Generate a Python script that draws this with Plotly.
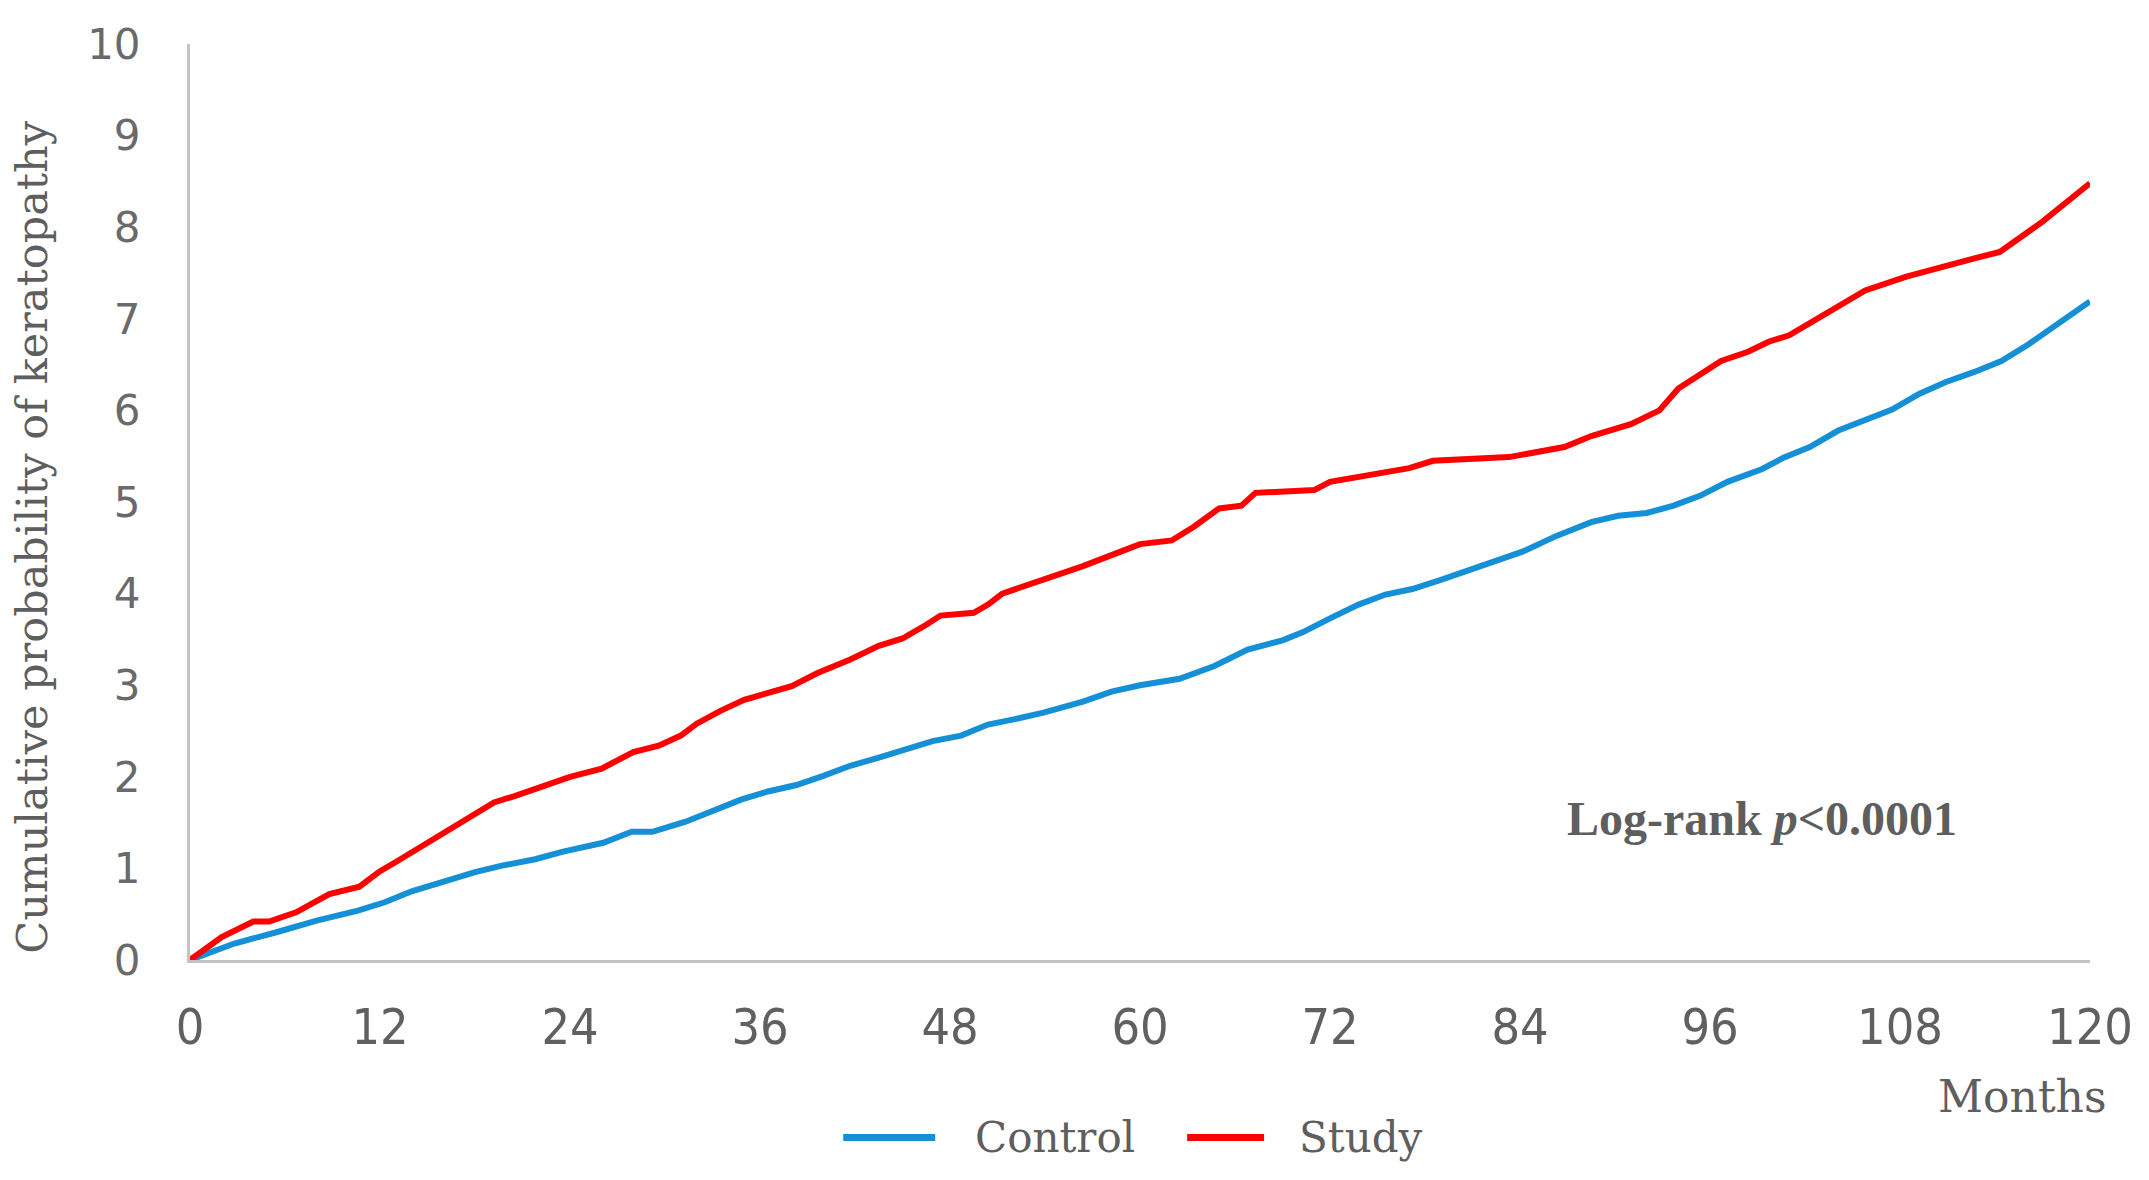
import plotly.graph_objects as go

# ---- data ----
control_months = [0, 2.8, 5.4, 8, 10.6, 12.3, 14, 15.8, 18, 19.7, 21.8, 23.5, 26.1, 27.9, 29.2,
                  31.3, 33, 34.8, 36.5, 38.3, 40, 41.7, 43.5, 45.2, 46.9, 48.7, 50.4, 52.1, 53.9,
                  56.4, 58.2, 60, 62.5, 64.7, 66.8, 69, 70.3, 72, 73.8, 75.5, 77.2, 79, 81.1, 82.4,
                  84.2, 86.3, 88.5, 90.2, 92, 93.7, 95.4, 97.1, 99.3, 100.6, 102.3, 104.1, 105.8,
                  107.5, 109.2, 110.9, 112.7, 114.4, 116.1, 117.9, 120]
control_values = [0, 0.18, 0.30, 0.43, 0.54, 0.63, 0.75, 0.85, 0.96, 1.03, 1.10, 1.18, 1.28, 1.40, 1.40,
                  1.51, 1.63, 1.75, 1.84, 1.91, 2.01, 2.12, 2.21, 2.30, 2.39, 2.45, 2.57, 2.63, 2.70,
                  2.82, 2.93, 3.00, 3.07, 3.21, 3.39, 3.49, 3.58, 3.73, 3.88, 3.99, 4.05, 4.15, 4.27, 4.36,
                  4.46, 4.63, 4.78, 4.85, 4.88, 4.96, 5.07, 5.22, 5.36, 5.48, 5.60, 5.78, 5.90,
                  6.01, 6.18, 6.31, 6.42, 6.54, 6.72, 6.94, 7.19]

study_months = [0, 2, 4, 5, 6.7, 8.8, 10.7, 12, 13, 15, 16.6, 18, 19.2, 20.5, 22, 24, 26, 28, 29.6,
                31, 32, 33.5, 35, 36.5, 38, 39.6, 41.7, 43.5, 45, 46.5, 47.4, 49.5, 50.4, 51.3, 53.9,
                56.4, 58.2, 60, 62, 63.4, 65, 66.4, 67.3, 71, 72, 74.6, 77, 78.5, 83.3, 86.8, 88.5,
                91, 92.8, 94, 95.4, 96.7, 98.4, 99.7, 101, 103.2, 105.8, 108.4, 110.6, 112.7, 114.3,
                117, 120]
study_values = [0, 0.25, 0.42, 0.42, 0.52, 0.72, 0.80, 0.97, 1.07, 1.28, 1.45, 1.61, 1.72, 1.79, 1.88,
                2.00, 2.09, 2.27, 2.34, 2.45, 2.58, 2.72, 2.84, 2.91, 2.99, 3.13, 3.28, 3.43, 3.51,
                3.66, 3.76, 3.79, 3.88, 4.00, 4.15, 4.30, 4.42, 4.54, 4.58, 4.73, 4.93, 4.96, 5.10,
                5.13, 5.22, 5.30, 5.37, 5.45, 5.49, 5.60, 5.72, 5.85, 6.00, 6.24, 6.39, 6.54, 6.64,
                6.75, 6.82, 7.04, 7.31, 7.46, 7.57, 7.66, 7.73, 8.06, 8.48]

x_ticks = [0, 12, 24, 36, 48, 60, 72, 84, 96, 108, 120]
y_ticks = [0, 1, 2, 3, 4, 5, 6, 7, 8, 9, 10]

BLUE = "#1590d6"
RED = "#ff0000"
TEXT = "#5e5e5e"
SERIF_WIDE = "DejaVu Serif, Liberation Serif, serif"
SERIF = "Liberation Serif, DejaVu Serif, serif"

fig = go.Figure()
fig.add_trace(go.Scatter(x=control_months, y=control_values, mode="lines", name="Control",
                         line=dict(color=BLUE, width=6), showlegend=False))
fig.add_trace(go.Scatter(x=study_months, y=study_values, mode="lines", name="Study",
                         line=dict(color=RED, width=6), showlegend=False))

fig.update_layout(
    width=2149, height=1180,
    margin=dict(l=182, r=67, t=33, b=228),
    paper_bgcolor="white", plot_bgcolor="white",
    xaxis=dict(range=[0, 120], tickvals=x_ticks, ticktext=[str(v) for v in x_ticks],
               showgrid=False, zeroline=False, showline=True, linecolor="#c4c4c4", linewidth=3,
               ticks="", ticklabelstandoff=21,
               tickfont=dict(family="Liberation Sans Narrow, DejaVu Sans Condensed, sans-serif",
                             size=50, color="#606060")),
    yaxis=dict(range=[0, 10], tickvals=y_ticks, ticktext=[str(v) for v in y_ticks],
               showgrid=False, zeroline=False, showline=True, linecolor="#c4c4c4", linewidth=3,
               ticks="", ticklabelstandoff=38,
               tickfont=dict(family="DejaVu Sans, sans-serif", size=42, color="#6a6a6a")),
)

# y-axis title
fig.add_annotation(text="Cumulative probability of keratopathy", textangle=-90,
                   xref="paper", yref="paper", x=-0.0832, y=0.462, showarrow=False,
                   xanchor="center", yanchor="middle",
                   font=dict(family=SERIF_WIDE, size=43, color=TEXT))
# x-axis title
fig.add_annotation(text="Months", xref="paper", yref="paper", x=0.9642, y=-0.1492,
                   showarrow=False, xanchor="center", yanchor="middle",
                   font=dict(family=SERIF_WIDE, size=44, color=TEXT))
# log-rank annotation
fig.add_annotation(text="<b>Log-rank <i>p</i>&lt;0.0001</b>", xref="x", yref="y", x=99.3, y=1.54,
                   showarrow=False, xanchor="center", yanchor="middle",
                   font=dict(family=SERIF, size=48, color=TEXT))

# custom legend
legend_items = [("Control", BLUE, 0.3438, 0.3922, 0.4120),
                ("Study", RED, 0.5248, 0.5653, 0.5826)]
for name, color, x0, x1, xt in legend_items:
    fig.add_shape(type="line", xref="paper", yref="paper", x0=x0, x1=x1, y0=-0.1939, y1=-0.1939,
                  line=dict(color=color, width=7))
    fig.add_annotation(text=name, xref="paper", yref="paper", x=xt, y=-0.1939, showarrow=False,
                       xanchor="left", yanchor="middle",
                       font=dict(family=SERIF_WIDE, size=42, color=TEXT))

fig.write_html("out.html")
